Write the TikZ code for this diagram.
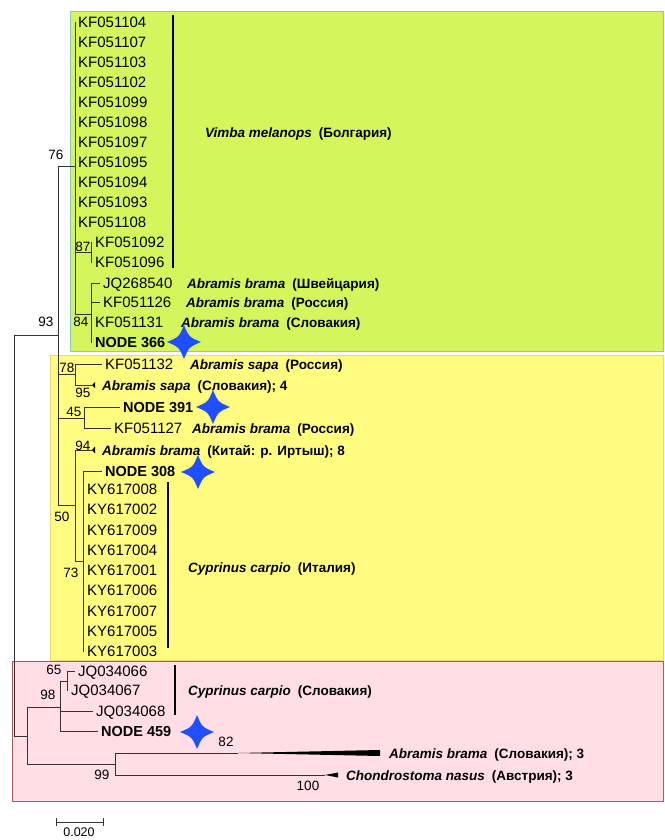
\documentclass[tikz,border=0pt]{standalone}
\usepackage{fontspec}
\setmainfont{Liberation Sans}
\usetikzlibrary{positioning, calc}
\definecolor{cladegreen}{HTML}{D4F55C}
\definecolor{cladeyellow}{HTML}{FFFC80}
\definecolor{cladepink}{HTML}{FFDEE5}
\definecolor{greenedge}{HTML}{8CC8B4}
\definecolor{yellowedge}{HTML}{E6DA78}
\definecolor{pinkedge}{HTML}{B05A5A}
\definecolor{starblue}{HTML}{1F4FFF}
\definecolor{branch}{HTML}{333333}
\newcommand{\spname}[2]{\textit{#1}\hspace{7pt}#2}
\tikzset{pics/bluestar/.style={code={
  \fill[starblue] (17,0) .. controls (5,5) .. (0,17) .. controls (-5,5) .. (-17,0) .. controls (-5,-5) .. (0,-17) .. controls (5,-5) .. (17,0) -- cycle;
}}}

\begin{document}
\begin{tikzpicture}[x=1pt, y=-1pt]
    \tikzstyle{taxon} = [anchor=west, inner xsep=3pt, inner ysep=0pt, text height=11pt, text depth=0pt, font=\fontsize{15}{18}\selectfont]
    \tikzstyle{nodelabel} = [taxon, font=\bfseries\fontsize{14.5}{17}\selectfont]
    \tikzstyle{species} = [anchor=west, inner sep=0pt, text height=10pt, text depth=0pt, font=\bfseries\fontsize{13.5}{16}\selectfont]
    \tikzstyle{boot} = [inner sep=0pt, text height=9.7pt, text depth=0pt, font=\fontsize{13.5}{16}\selectfont]
    \tikzstyle{branchline} = [draw=branch, line width=0.9pt]
    \tikzstyle{cladebar} = [draw=black, line width=2.6pt]

    \useasboundingbox (0,0) rectangle (664,840);
    \fill[white] (0,0) rectangle (664,840);

    % clade boxes
    \filldraw[fill=cladegreen, draw=greenedge, line width=1pt] (70,12) rectangle (663,351);
    \filldraw[fill=cladeyellow, draw=yellowedge, line width=1pt] (50,355) rectangle (663,660);
    \filldraw[fill=cladepink, draw=pinkedge, line width=1pt] (12,661) rectangle (663,801);

    % internal nodes
    \coordinate (root) at (14,535);
    \coordinate (n93) at (58,335);
    \coordinate (n76) at (75,166);
    \coordinate (n87) at (91,252);
    \coordinate (n84) at (91,314);
    \coordinate (n78) at (75,374);
    \coordinate (n45) at (84,418);
    \coordinate (n50) at (75,505);
    \coordinate (n73) at (83,561);
    \coordinate (npink) at (27,736);
    \coordinate (n98) at (60,707);
    \coordinate (n65) at (67,681);
    \coordinate (n99) at (115,764);

    % Vimba melanops clade
    \node [taxon] (kf051104) at (75,22) {KF051104};
    \node [taxon] (kf051107) at (75,42) {KF051107};
    \node [taxon] (kf051103) at (75,62) {KF051103};
    \node [taxon] (kf051102) at (75,82) {KF051102};
    \node [taxon] (kf051099) at (75,102) {KF051099};
    \node [taxon] (kf051098) at (75,122) {KF051098};
    \node [taxon] (kf051097) at (75,142) {KF051097};
    \node [taxon] (kf051095) at (75,162) {KF051095};
    \node [taxon] (kf051094) at (75,182) {KF051094};
    \node [taxon] (kf051093) at (75,202) {KF051093};
    \node [taxon] (kf051108) at (75,222) {KF051108};
    \node [taxon] (kf051092) at (92,242) {KF051092};
    \node [taxon] (kf051096) at (92,262) {KF051096};
    \node [taxon] (jq268540) at (100,283) {JQ268540};
    \node [taxon] (kf051126) at (100,302) {KF051126};
    \node [taxon] (kf051131) at (92,322) {KF051131};
    \node [nodelabel] (node366) at (92,342) {NODE 366};

    % Abramis / Cyprinus (Italy) clade
    \node [taxon] (kf051132) at (102,364) {KF051132};
    \coordinate (sapatip) at (92,385);
    \node [nodelabel] (node391) at (120,407) {NODE 391};
    \node [taxon] (kf051127) at (111,428) {KF051127};
    \coordinate (irtyshtip) at (92,450);
    \node [nodelabel] (node308) at (102,471) {NODE 308};
    \node [taxon] (ky617008) at (84,489) {KY617008};
    \node [taxon] (ky617002) at (84,509.25) {KY617002};
    \node [taxon] (ky617009) at (84,529.5) {KY617009};
    \node [taxon] (ky617004) at (84,549.75) {KY617004};
    \node [taxon] (ky617001) at (84,570) {KY617001};
    \node [taxon] (ky617006) at (84,590.25) {KY617006};
    \node [taxon] (ky617007) at (84,610.5) {KY617007};
    \node [taxon] (ky617005) at (84,630.75) {KY617005};
    \node [taxon] (ky617003) at (84,651) {KY617003};

    % outgroup clade
    \node [taxon] (jq034066) at (75,671) {JQ034066};
    \node [taxon] (jq034067) at (68,690) {JQ034067};
    \node [taxon] (jq034068) at (93,711) {JQ034068};
    \node [nodelabel] (node459) at (98,731) {NODE 459};
    \coordinate (bramatip) at (238,753);
    \coordinate (nasustip) at (325,775);

    % branches
    \path [branchline] (root) |- (n93) (root) |- (npink);
    \path [branchline] (n93) |- (n76) (n93) |- (n78) (n93) |- (n45) (n93) |- (n50);
    \path [branchline] (n76) |- (kf051104.west) (n76) |- (kf051108.west) (n76) |- (n87) (n76) |- (n84);
    \path [branchline] (n87) |- (kf051092.west) (n87) |- (kf051096.west);
    \path [branchline] (n84) |- (jq268540.west) (n84) |- (kf051126.west) (n84) |- (kf051131.west) (n84) |- (node366.west);
    \path [branchline] (n78) |- (kf051132.west) (n78) |- (sapatip);
    \path [branchline] (n45) |- (node391.west) (n45) |- (kf051127.west);
    \path [branchline] (n50) |- (irtyshtip) (n50) |- (n73);
    \path [branchline] (n73) |- (node308.west) (n73) |- (ky617003.west);
    \path [branchline] (npink) |- (n98) (npink) |- (n99);
    \path [branchline] (n98) |- (n65) (n98) |- (jq034068.west) (n98) |- (node459.west);
    \path [branchline] (n65) |- (jq034066.west) (n65) |- (jq034067.west);
    \path [branchline] (n99) |- (bramatip) (n99) |- (nasustip);

    % collapsed subtrees
    \fill [black] (sapatip) -- ++(3,-3) -- ++(0,6) -- cycle;
    \fill [black] (irtyshtip) -- ++(3,-3.5) -- ++(0,7) -- cycle;
    \fill [black] (bramatip) -- (380,750) -- (380,756) -- cycle;
    \fill [black] (nasustip) -- (338,772.5) -- (338,777.5) -- cycle;

    % species names
    \node [species] (vimba) at (205,133) {\spname{Vimba melanops}{(Болгария)}};
    \node [species] (bramach) at (187,283) {\spname{Abramis brama}{(Швейцария)}};
    \node [species] (bramaru) at (186,302) {\spname{Abramis brama}{(Россия)}};
    \node [species] (bramask) at (181,322) {\spname{Abramis brama}{(Словакия)}};
    \node [species] (saparu) at (190,364) {\spname{Abramis sapa}{(Россия)}};
    \node [species] (sapask) at (102,385) {\spname{Abramis sapa}{(Словакия); 4}};
    \node [species] (bramaru2) at (192,428) {\spname{Abramis brama}{(Россия)}};
    \node [species] (bramacn) at (102,450) {\spname{Abramis brama}{(Китай: р. Иртыш); 8}};
    \node [species] (carpioit) at (188,567) {\spname{Cyprinus carpio}{(Италия)}};
    \node [species] (carpiosk) at (188,690) {\spname{Cyprinus carpio}{(Словакия)}};
    \node [species] (bramask3) at (389,753) {\spname{Abramis brama}{(Словакия); 3}};
    \node [species] (nasusat) at (346,775) {\spname{Chondrostoma nasus}{(Австрия); 3}};

    % clade bars
    \draw [cladebar] (173,15) -- (173,268);
    \draw [cladebar] (168,482) -- (168,648);
    \draw [cladebar] (175,665) -- (175,715);

    % bootstrap values
    \node [boot] (b76) at (56,155) {76};
    \node [boot] (b87) at (83,247) {87};
    \node [boot] (b84) at (81,322) {84};
    \node [boot] (b93) at (46,322) {93};
    \node [boot] (b78) at (67,368) {78};
    \node [boot] (b95) at (83,393) {95};
    \node [boot] (b45) at (74,412) {45};
    \node [boot] (b94) at (83,446) {94};
    \node [boot] (b50) at (62,517) {50};
    \node [boot] (b73) at (71,573) {73};
    \node [boot] (b65) at (54,670) {65};
    \node [boot] (b98) at (48,695) {98};
    \node [boot] (b82) at (226,742) {82};
    \node [boot] (b99) at (102,775) {99};
    \node [boot] (b100) at (308,786) {100};

    % marked nodes
    \pic at (184,342) {bluestar};
    \pic at (213,407) {bluestar};
    \pic at (198,472) {bluestar};
    \pic at (197,732) {bluestar};

    % scale bar
    \coordinate (sbl) at (56,822);
    \coordinate (sbr) at (103,822);
    \draw [branchline] (sbl) -- (sbr);
    \draw [branchline] ($(sbl)+(0,-4)$) -- ($(sbl)+(0,4)$);
    \draw [branchline] ($(sbr)+(0,-4)$) -- ($(sbr)+(0,4)$);
    \node [boot, font=\fontsize{12.5}{15}\selectfont] (sblabel) at (79,832) {0.020};
\end{tikzpicture}
\end{document}
